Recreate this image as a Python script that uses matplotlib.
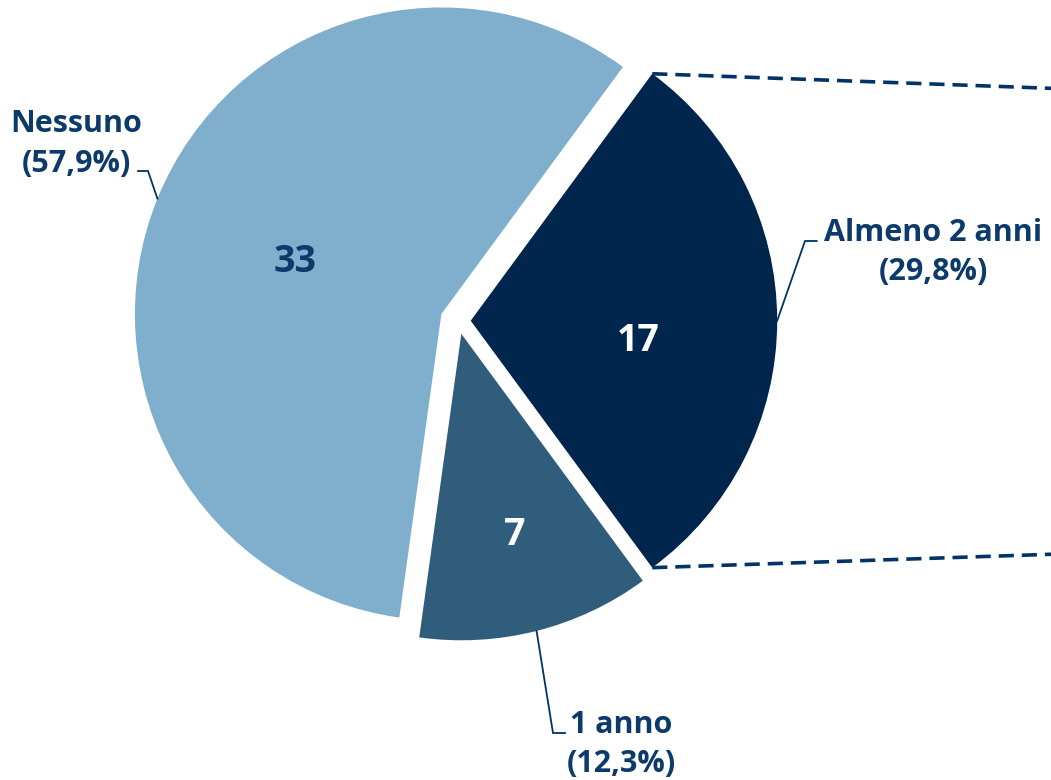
import numpy as np
import matplotlib
matplotlib.use("Agg")
import matplotlib.pyplot as plt

# ---- data ----
categories = ["Almeno 2 anni", "Nessuno", "1 anno"]
values = [17, 33, 7]

# ---- style ----
colors = ["#00264D", "#7FAFCC", "#2F5D7B"]
value_text_colors = ["white", "#0B3A6B", "white"]
label_color = "#0B3A6B"
line_color = "#003366"
FONT = ["Open Sans", "DejaVu Sans"]

W, H = 1051, 780


def Y(py):
    return H - py


fig = plt.figure(figsize=(W / 100, H / 100), dpi=100)
ax = fig.add_axes([0, 0, 1, 1])

radius = 306.5
center = (458.0, Y(320.7))
# matplotlib's explode offsets are in data units (pixels here)
explode = [12.7, 17.9, 13.5]
start = -values[0] / sum(values) * 180.0

wedges, _ = ax.pie(values, colors=colors, startangle=start, radius=radius,
                   center=center, explode=explode, counterclock=True,
                   wedgeprops=dict(linewidth=0), frame=True)
ax.set_xlim(0, W)
ax.set_ylim(0, H)
ax.set_aspect("equal")
ax.axis("off")

total = sum(values)


def pct(v):
    return f"({v / total * 100:.1f}%)".replace(".", ",")


# value labels inside wedges: (radial fraction, angle offset in deg)
val_pos = [(0.55, -5.6), (0.51, 1.4), (0.67, 1.0)]
digit_h = 26.7
for w, v, c, (fr, da) in zip(wedges, values, value_text_colors, val_pos):
    mid = np.deg2rad((w.theta1 + w.theta2) / 2 + da)
    cx, cy = w.center
    x = cx + fr * w.r * np.cos(mid)
    y = cy + fr * w.r * np.sin(mid)
    ax.text(x, y - digit_h / 2, str(v), ha="center", va="baseline",
            fontsize=27, fontweight="bold", color=c, family=FONT)

# outer labels: two lines each (centre x, baseline line1, baseline line2)
label_pos = [(933.5, 240.7, 280.0), (76.0, 132.5, 171.7), (621.0, 733.3, 771.7)]
# leader lines: elbow point and end point (pixel coordinates)
leader = [((805, 241), (816.7, 241)), ((148, 171), (138, 171)), ((553, 733), (565, 733))]
for w, cat, v, (lx, b1, b2), (elb, end) in zip(wedges, categories, values, label_pos, leader):
    ax.text(lx, Y(b1), cat, ha="center", va="baseline", fontsize=22,
            fontweight="bold", color=label_color, family=FONT)
    ax.text(lx, Y(b2), pct(v), ha="center", va="baseline", fontsize=22,
            fontweight="bold", color=label_color, family=FONT)
    mid = np.deg2rad((w.theta1 + w.theta2) / 2)
    cx, cy = w.center
    ax_x = cx + w.r * np.cos(mid)
    ax_y = cy + w.r * np.sin(mid)
    ax.plot([ax_x, elb[0], end[0]], [ax_y, Y(elb[1]), Y(end[1])],
            color=line_color, lw=1.3, solid_joinstyle="miter")

# dashed connector lines from "Almeno 2 anni" wedge corners toward the (cropped) second pie
w0 = wedges[0]
cx, cy = w0.center
targets = [(W + 2, 88.4), (W + 2, 554.2)]
for th, (tx, ty) in zip([w0.theta2, w0.theta1], targets):
    t = np.deg2rad(th)
    x0 = cx + w0.r * np.cos(t)
    y0 = cy + w0.r * np.sin(t)
    ax.plot([x0, tx], [y0, Y(ty)], color=line_color, lw=2.6,
            linestyle=(0, (4.2, 2.2)), solid_capstyle="butt", dash_capstyle="butt")

fig.savefig("out.png", dpi=100)
